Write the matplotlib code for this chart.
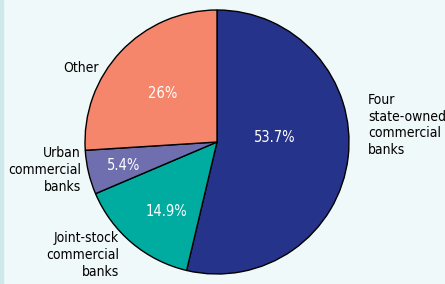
import matplotlib.pyplot as plt
from matplotlib.patches import Rectangle

plt.rcParams['font.family'] = ['DejaVu Sans']
plt.rcParams['font.stretch'] = 'condensed'

shares = [53.7, 14.9, 5.4, 26.0]
pct_labels = ['53.7%', '14.9%', '5.4%', '26%']
names = ['Four\nstate-owned\ncommercial\nbanks', 'Joint-stock\ncommercial\nbanks',
         'Urban\ncommercial\nbanks', 'Other']
colors = ['#25338b', '#00aba0', '#6f6fb0', '#f5866b']

fig = plt.figure(figsize=(4.45, 2.84), dpi=100)
fig.patch.set_facecolor('#f0f9f9')
ax = fig.add_axes([0, 0, 1, 1])
ax.add_patch(Rectangle((0, 0), 3, 284, color='#cde9ea', zorder=0))

wedges, _ = ax.pie(shares, colors=colors, startangle=90, counterclock=False,
                   center=(217, 142), radius=132, frame=True,
                   wedgeprops=dict(edgecolor='black', linewidth=1))
ax.set_xlim(0, 445)
ax.set_ylim(0, 284)
ax.set_aspect('equal')
ax.axis('off')

# percent labels (pixel positions)
pct_pos = [(275, 137), (166, 211), (124, 165), (163, 93)]
for (x, y), t in zip(pct_pos, pct_labels):
    ax.text(x, 284 - y, t, color='white', fontsize=10.5, ha='center', va='center')

ax.text(368, 284 - 125, names[0], fontsize=10, ha='left', va='center', linespacing=1.25)
ax.text(119, 284 - 255, names[1], fontsize=10, ha='right', va='center', linespacing=1.25)
ax.text(81, 284 - 170, names[2], fontsize=10, ha='right', va='center', linespacing=1.25)
ax.text(99, 284 - 68, names[3], fontsize=10, ha='right', va='center')

fig.savefig('out.png', dpi=100, facecolor=fig.get_facecolor())
